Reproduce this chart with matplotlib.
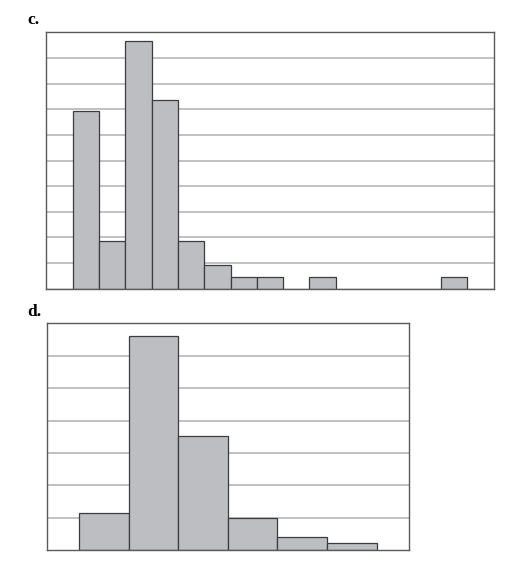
import numpy as np
import matplotlib
matplotlib.use('Agg')
import matplotlib.pyplot as plt

# ── Data ──────────────────────────────────────────────────────────────────────
# panel c: counts per bin, 17 bins (first and several later bins empty)
c_bins   = np.arange(17)
c_counts = [0, 15, 4, 21, 16, 4, 2, 1, 1, 0, 1, 0, 0, 0, 0, 1, 0]
c_ymax   = 21.7          # axis top in count units
c_ngrid  = 10

# panel d: heights in gridline units, 6 bins
d_bins   = np.arange(6)
d_values = [1.16, 6.61, 3.51, 0.99, 0.40, 0.22]
d_ymax   = 7
d_ngrid  = 7

BAR_FC  = '#bdbec2'
BAR_EC  = '#3c3c3c'
GRID_C  = '#bcbcbc'
SPINE_C = '#5a5a5a'

plt.rcParams.update({'font.family': ['Liberation Serif', 'DejaVu Serif']})

fig = plt.figure(figsize=(5.23, 5.64), dpi=100)
ax_c = fig.add_axes([0.0886, 0.488, 0.8554, 0.4547])
ax_d = fig.add_axes([0.0893, 0.0243, 0.6922, 0.4025])


def style_axes(ax, ymax, ngrid):
    ax.set_ylim(0, ymax)
    for g in np.linspace(0, ymax, ngrid + 1)[1:-1]:
        ax.axhline(g, color=GRID_C, lw=1.3, zorder=0)
    ax.set_xticks([])
    ax.set_yticks([])
    for sp in ax.spines.values():
        sp.set_color(SPINE_C)
        sp.set_linewidth(1.0)


# ── Panel c ──────────────────────────────────────────────────────────────────
ax_c.bar(c_bins, c_counts, width=1.0, align='edge', color=BAR_FC,
         edgecolor=BAR_EC, linewidth=0.9, zorder=2)
ax_c.set_xlim(0, len(c_bins))
style_axes(ax_c, c_ymax, c_ngrid)

# ── Panel d ──────────────────────────────────────────────────────────────────
ax_d.bar(d_bins, d_values, width=1.0, align='edge', color=BAR_FC,
         edgecolor=BAR_EC, linewidth=0.9, zorder=2)
ax_d.set_xlim(-0.66, 6.65)
style_axes(ax_d, d_ymax, d_ngrid)

# ── Panel letters ─────────────────────────────────────────────────────────────
fig.text(27 / 523, 1 - 23.5 / 564, 'c.', fontsize=12.5, fontweight='bold',
         ha='left', va='baseline')
fig.text(27 / 523, 1 - 316.5 / 564, 'd.', fontsize=12.5, fontweight='bold',
         ha='left', va='baseline')

fig.savefig('out.png', dpi=100)
